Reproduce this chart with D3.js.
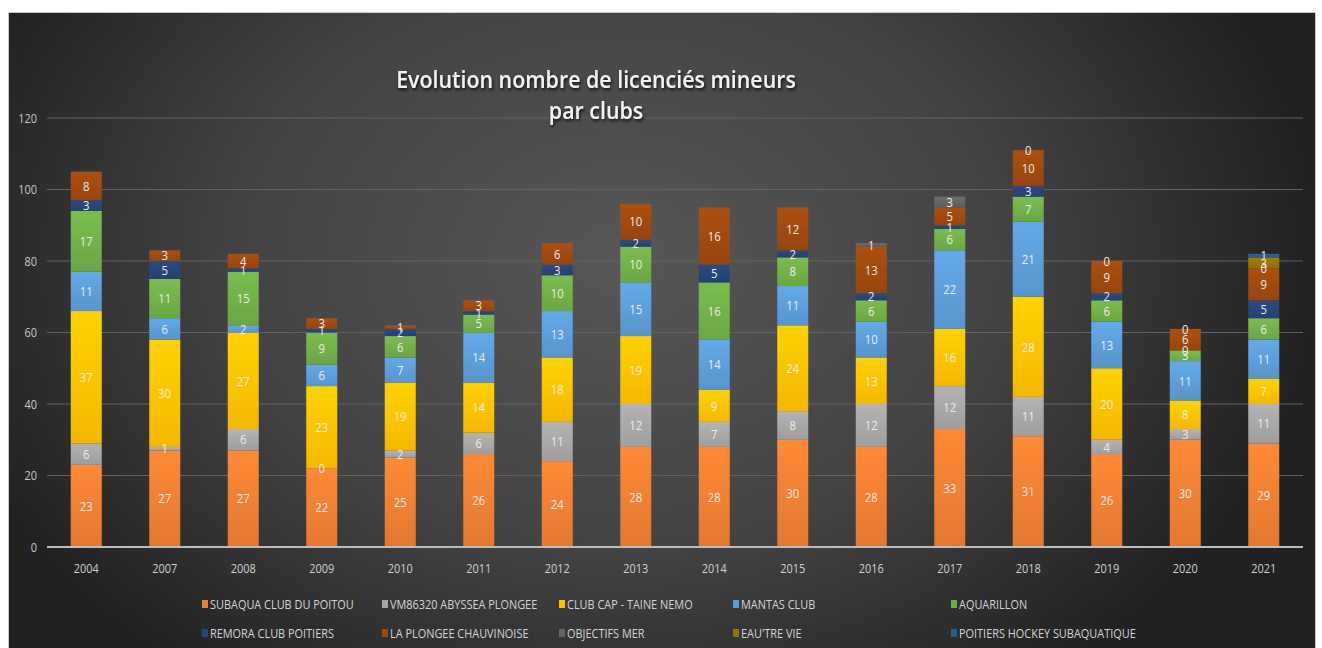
<!DOCTYPE html>
<html>
<head>
<meta charset="utf-8">
<style>
  body { margin: 0; background: #fff; }
  svg { display: block; }
</style>
</head>
<body>
<svg width="1322" height="648"></svg>
<script src="https://cdn.jsdelivr.net/npm/d3@7"></script>
<script>

var years = ["2004", "2007", "2008", "2009", "2010", "2011", "2012", "2013",
             "2014", "2015", "2016", "2017", "2018", "2019", "2020", "2021"];

var subaqua    = [23, 27, 27, 22, 25, 26, 24, 28, 28, 30, 28, 33, 31, 26, 30, 29];
var vm86320    = [6, 1, 6, 0, 2, 6, 11, 12, 7, 8, 12, 12, 11, 4, 3, 11];
var clubCap    = [37, 30, 27, 23, 19, 14, 18, 19, 9, 24, 13, 16, 28, 20, 8, 7];
var mantas     = [11, 6, 2, 6, 7, 14, 13, 15, 14, 11, 10, 22, 21, 13, 11, 11];
var aquarillon = [17, 11, 15, 9, 6, 5, 10, 10, 16, 8, 6, 6, 7, 6, 3, 6];
var remora     = [3, 5, 1, 1, 2, 1, 3, 2, 5, 2, 2, 1, 3, 2, 0, 5];
var plongee    = [8, 3, 4, 3, 1, 3, 6, 10, 16, 12, 13, 5, 10, 9, 6, 9];
var objectifs  = [null, null, null, null, null, null, null, null, null, null, 1, 3, 0, 0, 0, 0];
var eautre     = [null, null, null, null, null, null, null, null, null, null, null, null, null, null, null, 3];
var hockey     = [null, null, null, null, null, null, null, null, null, null, null, null, null, null, null, 1];

var seriesNames = ["SUBAQUA CLUB DU POITOU", "VM86320 ABYSSEA PLONGEE", "CLUB CAP - TAINE NEMO",
                   "MANTAS CLUB", "AQUARILLON", "REMORA CLUB POITIERS", "LA PLONGEE CHAUVINOISE",
                   "OBJECTIFS MER", "EAU'TRE VIE", "POITIERS HOCKEY SUBAQUATIQUE"];
var seriesValues = [subaqua, vm86320, clubCap, mantas, aquarillon, remora, plongee, objectifs, eautre, hockey];
var seriesColors = ["#ED7D31", "#A5A5A5", "#FFC000", "#5B9BD5", "#70AD47",
                    "#264478", "#9E480E", "#636363", "#997300", "#255E91"];
var yTicks = [0, 20, 40, 60, 80, 100, 120];

var svg = d3.select("svg");
var font = "'Open Sans', 'DejaVu Sans', sans-serif";
var squeeze = 0.84;   // the original uses a narrow font

function place(px, py, s) {
  return "translate(" + px + "," + py + ") scale(" + (s || squeeze) + ",1)";
}

var defs = svg.append("defs");
var bg = defs.append("radialGradient").attr("id", "bg")
    .attr("gradientUnits", "userSpaceOnUse")
    .attr("cx", 620).attr("cy", 260).attr("r", 700)
    .attr("gradientTransform", "translate(620,260) scale(1,0.75) translate(-620,-260)");
bg.append("stop").attr("offset", "0").attr("stop-color", "#575757");
bg.append("stop").attr("offset", "0.55").attr("stop-color", "#434343");
bg.append("stop").attr("offset", "1").attr("stop-color", "#212121");

seriesColors.forEach(function(c, i) {
  var g = defs.append("linearGradient").attr("id", "grad" + i)
      .attr("x1", 0).attr("y1", 0).attr("x2", 0).attr("y2", 1);
  g.append("stop").attr("offset", "0").attr("stop-color", d3.color(c).brighter(0.25));
  g.append("stop").attr("offset", "1").attr("stop-color", d3.color(c).darker(0.12));
});

var shadow = defs.append("filter").attr("id", "shadow")
    .attr("x", "-5%").attr("y", "-20%").attr("width", "110%").attr("height", "150%");
shadow.append("feDropShadow").attr("dx", 1).attr("dy", 2).attr("stdDeviation", 1.5)
    .attr("flood-color", "#000").attr("flood-opacity", 0.8);

// chart frame
svg.append("rect")
    .attr("x", 8.5).attr("y", 12.5).attr("width", 1307).attr("height", 650)
    .attr("fill", "url(#bg)").attr("stroke", "#c8c8c8");

var x = d3.scaleBand().domain(years).range([47, 1303]).paddingInner(0.605).paddingOuter(0.3025);
var y = d3.scaleLinear().domain([0, 120]).range([547, 118]);

// gridlines
svg.append("g").selectAll("line")
    .data(yTicks.slice(1))
    .enter().append("line")
    .attr("x1", 47).attr("x2", 1303)
    .attr("y1", function(d) { return y(d); })
    .attr("y2", function(d) { return y(d); })
    .attr("stroke", "#626262").attr("stroke-width", 1);

// title
var titleLines = ["Evolution nombre de licenciés mineurs", "par clubs"];
svg.append("g").selectAll("text")
    .data(titleLines)
    .enter().append("text")
    .attr("transform", function(d, i) { return place(596, 88 + i * 31, 0.93); })
    .attr("text-anchor", "middle")
    .style("font-family", font).style("font-size", "23px").style("font-weight", "600")
    .attr("fill", "#f2f2f2").attr("filter", "url(#shadow)")
    .text(function(d) { return d; });

// y axis labels
svg.append("g").selectAll("text")
    .data(yTicks)
    .enter().append("text")
    .attr("transform", function(d) { return place(37, y(d)); })
    .attr("dy", "0.35em").attr("text-anchor", "end")
    .style("font-family", font).style("font-size", "13px")
    .attr("fill", "#c9c9c9")
    .text(function(d) { return d; });

// build stacked segments
var segments = [];
years.forEach(function(yr, j) {
  var base = 0;
  seriesValues.forEach(function(vals, i) {
    var v = vals[j];
    if (v === null) return;
    segments.push({ year: yr, series: i, value: v, y0: base, y1: base + v });
    base += v;
  });
});

svg.append("g").selectAll("rect")
    .data(segments.filter(function(d) { return d.value > 0; }))
    .enter().append("rect")
    .attr("x", function(d) { return x(d.year); })
    .attr("width", x.bandwidth())
    .attr("y", function(d) { return y(d.y1); })
    .attr("height", function(d) { return y(d.y0) - y(d.y1); })
    .attr("fill", function(d) { return "url(#grad" + d.series + ")"; });

// baseline
svg.append("line")
    .attr("x1", 47).attr("x2", 1303).attr("y1", y(0)).attr("y2", y(0))
    .attr("stroke", "#bdbdbd").attr("stroke-width", 2);

// data labels
svg.append("g").selectAll("text")
    .data(segments)
    .enter().append("text")
    .attr("transform", function(d) {
      return place(x(d.year) + x.bandwidth() / 2, y((d.y0 + d.y1) / 2));
    })
    .attr("dy", "0.35em").attr("text-anchor", "middle")
    .style("font-family", font).style("font-size", "13.5px")
    .attr("fill", "#ececec")
    .text(function(d) { return d.value; });

// x labels
svg.append("g").selectAll("text")
    .data(years)
    .enter().append("text")
    .attr("transform", function(d) { return place(x(d) + x.bandwidth() / 2, 568); })
    .attr("dy", "0.35em").attr("text-anchor", "middle")
    .style("font-family", font).style("font-size", "13px")
    .attr("fill", "#d0d0d0")
    .text(function(d) { return d; });

// legend
var legendCols = [202, 382, 559, 733, 951];
var legendRows = [604, 633];
var legend = svg.append("g").selectAll("g")
    .data(seriesNames)
    .enter().append("g")
    .attr("transform", function(d, i) {
      return "translate(" + legendCols[i % 5] + "," + legendRows[Math.floor(i / 5)] + ")";
    });
legend.append("rect")
    .attr("x", 0).attr("y", -4).attr("width", 6).attr("height", 8)
    .attr("fill", function(d, i) { return seriesColors[i]; });
legend.append("text")
    .attr("transform", "translate(8,0) scale(" + squeeze + ",1)")
    .attr("dy", "0.35em")
    .style("font-family", font).style("font-size", "13px")
    .attr("fill", "#d5d5d5")
    .text(function(d) { return d; });

</script>
</body>
</html>
